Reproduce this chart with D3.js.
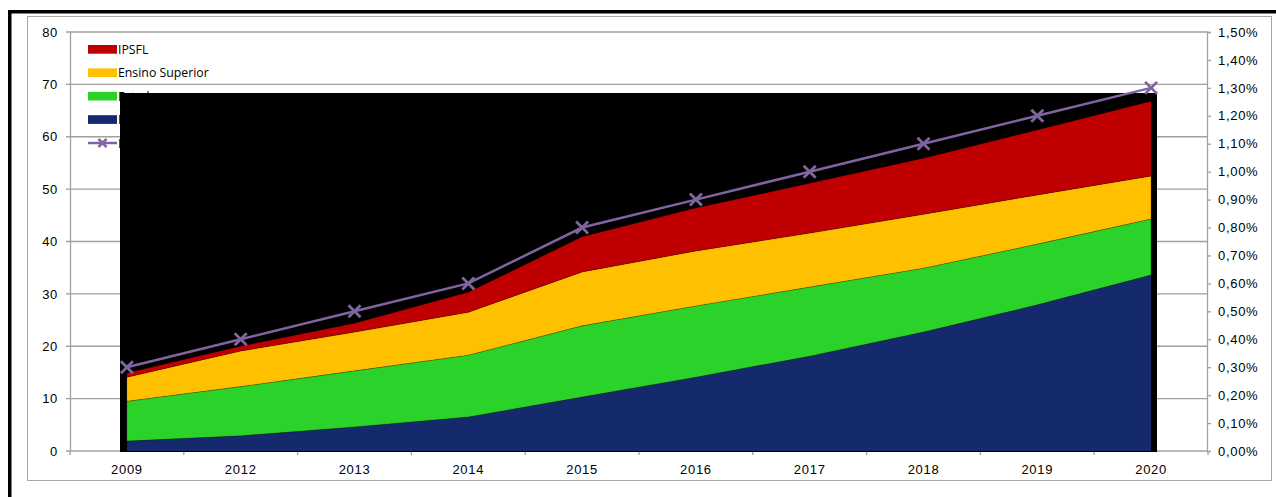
<!DOCTYPE html>
<html>
<head>
<meta charset="utf-8">
<script src="https://cdn.jsdelivr.net/npm/d3@7"></script>
<style>
  body { margin: 0; background: #fff; }
  svg { display: block; }
  .tick-label { font-family: "Liberation Sans", Arial, sans-serif; font-size: 13px; letter-spacing: 0.7px; fill: #000; }
  .legend-label { font-family: "Open Sans", sans-serif; font-size: 12.3px; fill: #000; }
</style>
</head>
<body>
<div id="chart"></div>
<script>
// data
const years = ["2009", "2012", "2013", "2014", "2015", "2016", "2017", "2018", "2019", "2020"];
const empresas = [1.9, 2.9, 4.6, 6.5, 10.3, 14.1, 18.1, 22.7, 27.9, 33.6];
const estado = [7.6, 9.4, 10.7, 11.8, 13.6, 13.6, 13.2, 12.2, 11.6, 10.7];
const ensinoSuperior = [4.6, 6.8, 7.4, 8.2, 10.3, 10.5, 10.3, 10.3, 9.4, 8.2];
const ipsfl = [0.8, 0.9, 1.7, 3.8, 6.7, 8.2, 9.5, 10.7, 12.4, 14.3];
const pctPIB = [0.30, 0.40, 0.50, 0.60, 0.80, 0.90, 1.00, 1.10, 1.20, 1.30];

const leftTicks = [0, 10, 20, 30, 40, 50, 60, 70, 80];
const rightTicks = [0, 0.1, 0.2, 0.3, 0.4, 0.5, 0.6, 0.7, 0.8, 0.9, 1.0, 1.1, 1.2, 1.3, 1.4, 1.5];

const seriesKeys = ["Empresas", "Estado", "Ensino Superior", "IPSFL"];
const colors = {
  "Empresas": "#142a6c",
  "Estado": "#2ad22a",
  "Ensino Superior": "#ffc000",
  "IPSFL": "#c00000"
};
const lineColor = "#8064a2";
const lineLabel = "Despesa em I&D (% do PIB)";

const rows = years.map((y, i) => ({
  year: y,
  "Empresas": empresas[i],
  "Estado": estado[i],
  "Ensino Superior": ensinoSuperior[i],
  "IPSFL": ipsfl[i],
  pct: pctPIB[i]
}));

const W = 1276, H = 497;
const plot = {left: 70, right: 1208, top: 32, bottom: 451};

const svg = d3.select("#chart").append("svg")
    .attr("width", W)
    .attr("height", H);

// frame
svg.append("rect")
    .attr("x", 27.5).attr("y", 16.5)
    .attr("width", 1244).attr("height", 464)
    .attr("fill", "none").attr("stroke", "#a6a6a6").attr("stroke-width", 1);
svg.append("rect").attr("x", 8).attr("y", 10).attr("width", W - 8).attr("height", 3.5).attr("fill", "#000");
svg.append("rect").attr("x", 8).attr("y", 10).attr("width", 3.5).attr("height", H - 10).attr("fill", "#000");

// Scales
let x = d3.scaleBand()
    .domain(years)
    .range([plot.left, plot.right])
    .padding(0);
let y = d3.scaleLinear()
    .domain([0, 80])
    .range([plot.bottom, plot.top]);
let y2 = d3.scaleLinear()
    .domain([0, 1.5])
    .range([plot.bottom, plot.top]);
const cx = d => x(d) + x.bandwidth() / 2;

// gridlines
svg.append("g").selectAll("line")
    .data(leftTicks)
    .enter().append("line")
    .attr("x1", plot.left - 4).attr("x2", plot.right)
    .attr("y1", d => y(d)).attr("y2", d => y(d))
    .attr("stroke", "#a0a0a0").attr("stroke-width", 1.3);

// left axis
const leftAxis = svg.append("g")
    .attr("transform", `translate(${plot.left},0)`)
    .call(d3.axisLeft(y).tickValues(leftTicks).tickSize(0).tickPadding(12));
leftAxis.select(".domain").attr("stroke", "#a0a0a0").attr("stroke-width", 1.3);
leftAxis.selectAll("text").attr("class", "tick-label");

// right axis
const rightAxis = svg.append("g")
    .attr("transform", `translate(${plot.right - 1},0)`)
    .call(d3.axisRight(y2).tickValues(rightTicks).tickSize(4).tickPadding(7)
        .tickFormat(d => d3.format(".2f")(d).replace(".", ",") + "%"));
rightAxis.select(".domain").attr("stroke", "#a0a0a0").attr("stroke-width", 1.3);
rightAxis.selectAll("line").attr("stroke", "#a0a0a0").attr("stroke-width", 1.3);
rightAxis.selectAll("text").attr("class", "tick-label");

// bottom axis
const bottomAxis = svg.append("g")
    .attr("transform", `translate(0,${plot.bottom})`)
    .call(d3.axisBottom(x).tickSize(0).tickPadding(14));
bottomAxis.select(".domain").remove();
bottomAxis.selectAll("text").attr("class", "tick-label");
svg.append("g").selectAll("line")
    .data(years.concat(["end"]))
    .enter().append("line")
    .attr("x1", (d, i) => plot.left + i * x.bandwidth())
    .attr("x2", (d, i) => plot.left + i * x.bandwidth())
    .attr("y1", plot.bottom).attr("y2", plot.bottom + 4)
    .attr("stroke", "#a0a0a0").attr("stroke-width", 1.3);

// legend (partly covered by the black panel, as in the original)
const legendItems = ["IPSFL", "Ensino Superior", "Estado", "Empresas"];
const legend = svg.append("g").attr("class", "legend");
legend.selectAll("rect")
    .data(legendItems)
    .enter().append("rect")
    .attr("x", 88).attr("y", (d, i) => 45 + i * 23.4)
    .attr("width", 29).attr("height", 8.7)
    .attr("fill", d => colors[d]);
legend.selectAll("text")
    .data(legendItems.concat([lineLabel]))
    .enter().append("text")
    .attr("class", "legend-label")
    .attr("x", 118).attr("y", (d, i) => 54 + i * 23.4)
    .text(d => d);
legend.append("line")
    .attr("x1", 88).attr("x2", 117).attr("y1", 143).attr("y2", 143)
    .attr("stroke", lineColor).attr("stroke-width", 2.5);
legend.append("path")
    .attr("d", "M-4,-4L4,4M-4,4L4,-4")
    .attr("transform", "translate(102.5,143)")
    .attr("stroke", lineColor).attr("stroke-width", 2.5).attr("fill", "none");

// black panel behind the areas
svg.append("rect")
    .attr("x", 120).attr("y", 93)
    .attr("width", 1157 - 120).attr("height", plot.bottom + 1 - 93)
    .attr("fill", "#000");

// stacked areas
const stacked = d3.stack().keys(seriesKeys)(rows);
const area = d3.area()
    .x(d => cx(d.data.year))
    .y0(d => y(d[0]))
    .y1(d => y(d[1]));
svg.append("g").selectAll("path")
    .data(stacked)
    .enter().append("path")
    .attr("d", area)
    .attr("fill", d => colors[d.key])
    .attr("stroke", "#000").attr("stroke-opacity", 0.35).attr("stroke-width", 0.6);

// % PIB line with x markers
const line = d3.line()
    .x(d => cx(d.year))
    .y(d => y2(d.pct));
svg.append("path")
    .datum(rows)
    .attr("d", line)
    .attr("fill", "none")
    .attr("stroke", lineColor).attr("stroke-width", 2.5);
svg.append("g").selectAll("path")
    .data(rows)
    .enter().append("path")
    .attr("d", "M-6,-6L6,6M-6,6L6,-6")
    .attr("transform", d => `translate(${cx(d.year)},${y2(d.pct)})`)
    .attr("fill", "none")
    .attr("stroke", lineColor).attr("stroke-width", 2.8);
</script>
</body>
</html>
